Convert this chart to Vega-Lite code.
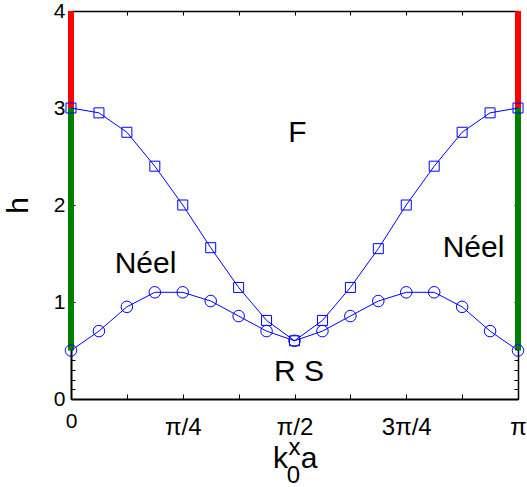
{
  "$schema": "https://vega.github.io/schema/vega-lite/v6.json",
  "width": 447,
  "height": 388,
  "autosize": {"type": "none"},
  "padding": {"left": 71, "top": 11, "right": 9, "bottom": 88},
  "background": "white",
  "config": {"view": {"stroke": null}, "font": "Liberation Sans", "axis": {"grid": false}},
  "datasets": {
    "bars": [
      {"k": 0, "h": 0.5, "h2": 3, "phase": "Néel"},
      {"k": 0, "h": 3, "h2": 4, "phase": "F"},
      {"k": 3.14159, "h": 0.5, "h2": 3, "phase": "Néel"},
      {"k": 3.14159, "h": 3, "h2": 4, "phase": "F"}
    ],
    "curves": [
      {"k": 0, "h": 3.0, "series": "F boundary"},
      {"k": 0.19635, "h": 2.95, "series": "F boundary"},
      {"k": 0.3927, "h": 2.75, "series": "F boundary"},
      {"k": 0.58905, "h": 2.4, "series": "F boundary"},
      {"k": 0.7854, "h": 2.0, "series": "F boundary"},
      {"k": 0.98175, "h": 1.56, "series": "F boundary"},
      {"k": 1.1781, "h": 1.15, "series": "F boundary"},
      {"k": 1.37445, "h": 0.81, "series": "F boundary"},
      {"k": 1.5708, "h": 0.6, "series": "F boundary"},
      {"k": 1.76715, "h": 0.81, "series": "F boundary"},
      {"k": 1.9635, "h": 1.15, "series": "F boundary"},
      {"k": 2.15985, "h": 1.55, "series": "F boundary"},
      {"k": 2.3562, "h": 2.0, "series": "F boundary"},
      {"k": 2.55255, "h": 2.4, "series": "F boundary"},
      {"k": 2.7489, "h": 2.75, "series": "F boundary"},
      {"k": 2.94525, "h": 2.95, "series": "F boundary"},
      {"k": 3.14159, "h": 3.0, "series": "F boundary"},
      {"k": 0, "h": 0.5, "series": "Néel boundary"},
      {"k": 0.19635, "h": 0.7, "series": "Néel boundary"},
      {"k": 0.3927, "h": 0.95, "series": "Néel boundary"},
      {"k": 0.58905, "h": 1.1, "series": "Néel boundary"},
      {"k": 0.7854, "h": 1.1, "series": "Néel boundary"},
      {"k": 0.98175, "h": 1.01, "series": "Néel boundary"},
      {"k": 1.1781, "h": 0.855, "series": "Néel boundary"},
      {"k": 1.37445, "h": 0.7, "series": "Néel boundary"},
      {"k": 1.5708, "h": 0.6, "series": "Néel boundary"},
      {"k": 1.76715, "h": 0.7, "series": "Néel boundary"},
      {"k": 1.9635, "h": 0.855, "series": "Néel boundary"},
      {"k": 2.15985, "h": 1.01, "series": "Néel boundary"},
      {"k": 2.3562, "h": 1.1, "series": "Néel boundary"},
      {"k": 2.55255, "h": 1.1, "series": "Néel boundary"},
      {"k": 2.7489, "h": 0.95, "series": "Néel boundary"},
      {"k": 2.94525, "h": 0.7, "series": "Néel boundary"},
      {"k": 3.14159, "h": 0.5, "series": "Néel boundary"}
    ],
    "labels": [
      {"k": 1.592, "h": 2.65, "text": "F", "role": "big"},
      {"k": 0.5236, "h": 1.3, "text": "Néel", "role": "big"},
      {"k": 2.829, "h": 1.464, "text": "Néel", "role": "big"},
      {"k": 1.6024, "h": 0.186, "text": "R S", "role": "big"},
      {"k": 1.4724, "h": -0.711, "text": "k", "role": "big"},
      {"k": 1.5708, "h": -0.577, "text": "x", "role": "script"},
      {"k": 1.5637, "h": -0.866, "text": "0", "role": "script"},
      {"k": 1.6727, "h": -0.711, "text": "a", "role": "big"}
    ]
  },
  "resolve": {"axis": {"x": "independent", "y": "independent"}},
  "layer": [
    {
      "data": {"name": "bars"},
      "mark": {"type": "rule", "strokeWidth": 6},
      "encoding": {
        "x": {
          "field": "k", "type": "quantitative",
          "scale": {"domain": [0, 3.14159], "nice": false, "zero": false},
          "axis": {
            "orient": "bottom", "title": null,
            "values": [0, 0.3927, 0.7854, 1.1781, 1.5708, 1.9635, 2.3562, 2.7489, 3.14159],
            "labelExpr": "datum.value < 0.01 ? '0' : abs(datum.value - 0.7854) < 0.01 ? 'π/4' : abs(datum.value - 1.5708) < 0.01 ? 'π/2' : abs(datum.value - 2.3562) < 0.01 ? '3π/4' : abs(datum.value - 3.14159) < 0.01 ? 'π' : ''",
            "labelFontSize": {"condition": {"test": "datum.value < 0.01", "value": 21}, "value": 24},
            "labelPadding": {"condition": {"test": "datum.value < 0.01", "value": 16}, "value": 21},
            "labelFont": "Liberation Sans", "labelColor": "black",
            "labelOverlap": false, "labelBound": false, "labelFlush": false,
            "tickSize": -5, "tickColor": "black", "tickWidth": 1,
            "domainColor": "black", "domainWidth": 2
          }
        },
        "y": {
          "field": "h", "type": "quantitative",
          "scale": {"domain": [0, 4], "nice": false, "zero": false},
          "axis": {
            "orient": "left", "title": "h",
            "titleFontSize": 30, "titleFont": "Liberation Sans", "titleFontWeight": "normal", "titleColor": "black",
            "titlePadding": 20,
            "values": [0, 0.1, 0.2, 0.3, 0.4, 1, 2, 3, 4],
            "labelExpr": "datum.value % 1 == 0 ? format(datum.value, 'd') : ''",
            "labelFontSize": 21, "labelFont": "Liberation Sans", "labelColor": "black",
            "labelPadding": 10, "labelOverlap": false, "labelBound": false, "labelFlush": false,
            "tickSize": -4, "tickColor": "black", "tickWidth": 1,
            "domainColor": "black", "domainWidth": 2
          }
        },
        "y2": {"field": "h2"},
        "color": {
          "field": "phase", "type": "nominal",
          "scale": {"domain": ["Néel", "F"], "range": ["#008000", "#ff0000"]},
          "legend": null
        }
      }
    },
    {
      "data": {"name": "curves"},
      "mark": {"type": "line", "color": "#0000ff", "strokeWidth": 1},
      "encoding": {
        "x": {
          "field": "k", "type": "quantitative",
          "axis": {
            "orient": "top", "title": null, "labels": false,
            "values": [0, 0.3927, 0.7854, 1.1781, 1.5708, 1.9635, 2.3562, 2.7489, 3.14159],
            "tickSize": -4, "tickColor": "black", "tickWidth": 1,
            "domainColor": "black", "domainWidth": 1.5
          }
        },
        "y": {
          "field": "h", "type": "quantitative",
          "axis": {
            "orient": "right", "title": null, "labels": false,
            "values": [0, 0.1, 0.2, 0.3, 0.4, 1, 2, 3, 4],
            "tickSize": -4, "tickColor": "black", "tickWidth": 1,
            "domainColor": "black", "domainWidth": 1.5
          }
        },
        "detail": {"field": "series", "type": "nominal"},
        "order": {"field": "k", "type": "quantitative"}
      }
    },
    {
      "data": {"name": "curves"},
      "mark": {"type": "point", "filled": false, "color": "#0000ff", "strokeWidth": 1, "opacity": 1},
      "encoding": {
        "x": {"field": "k", "type": "quantitative", "axis": null},
        "y": {"field": "h", "type": "quantitative", "axis": null},
        "shape": {
          "field": "series", "type": "nominal",
          "scale": {"domain": ["F boundary", "Néel boundary"], "range": ["square", "circle"]},
          "legend": null
        },
        "size": {
          "field": "series", "type": "nominal",
          "scale": {"domain": ["F boundary", "Néel boundary"], "range": [100, 133]},
          "legend": null
        }
      }
    },
    {
      "data": {"name": "labels"},
      "transform": [{"filter": "datum.role == 'big'"}],
      "mark": {"type": "text", "align": "center", "baseline": "alphabetic", "color": "black", "font": "Liberation Sans", "fontSize": 30},
      "encoding": {
        "x": {"field": "k", "type": "quantitative", "axis": null},
        "y": {"field": "h", "type": "quantitative", "axis": null},
        "text": {"field": "text"}
      }
    },
    {
      "data": {"name": "labels"},
      "transform": [{"filter": "datum.role == 'script'"}],
      "mark": {"type": "text", "align": "center", "baseline": "alphabetic", "color": "black", "font": "Liberation Sans", "fontSize": 24},
      "encoding": {
        "x": {"field": "k", "type": "quantitative", "axis": null},
        "y": {"field": "h", "type": "quantitative", "axis": null},
        "text": {"field": "text"}
      }
    }
  ]
}
